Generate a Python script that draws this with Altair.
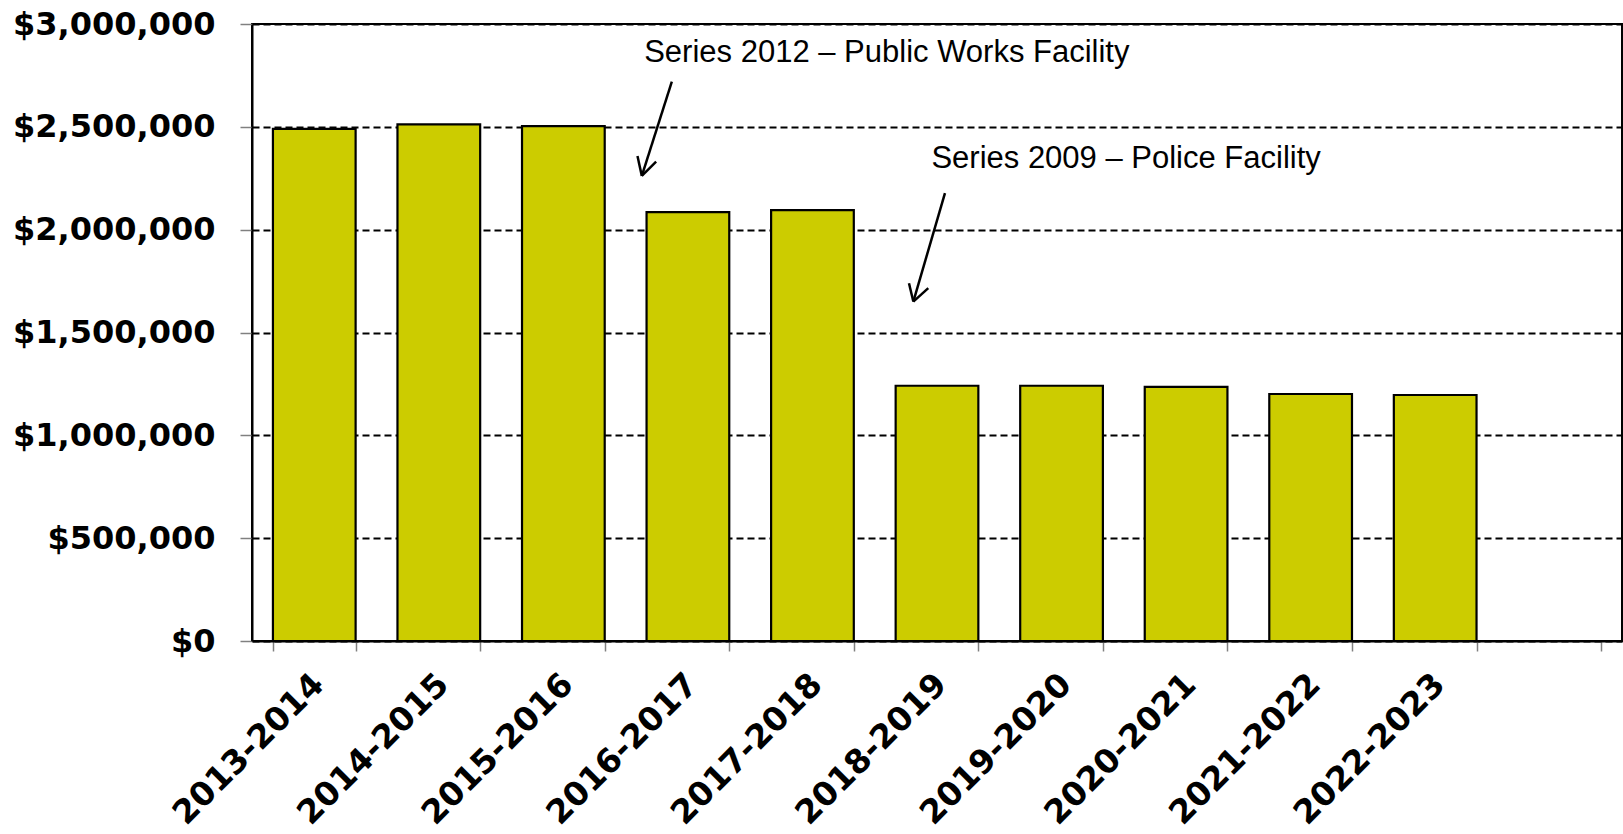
import altair as alt
import pandas as pd

# ---- data ----
years = ["2013-2014", "2014-2015", "2015-2016", "2016-2017", "2017-2018",
         "2018-2019", "2019-2020", "2020-2021", "2021-2022", "2022-2023", ""]
payments = [2490000, 2512000, 2503000, 2085000, 2095000,
            1241000, 1241000, 1236000, 1201000, 1196000]
y_ticks = [0, 500000, 1000000, 1500000, 2000000, 2500000, 3000000]

# annotations (x in band units from the left edge, y in dollars)
note_text = ["Series 2012 \u2013 Public Works Facility", "Series 2009 \u2013 Police Facility"]
note_x = [3.149, 5.455]
note_y = [2861000, 2343000]

# arrow segments: shaft + two head strokes for each arrow
seg_x = [3.371, 3.130, 3.130, 5.564, 5.310, 5.310]
seg_y = [2719600, 2261300, 2261300, 2177200, 1650400, 1650400]
seg_x2 = [3.130, 3.095, 3.245, 5.310, 5.275, 5.430]
seg_y2 = [2261300, 2358500, 2330800, 1650400, 1739800, 1715500]

bars_df = pd.DataFrame({"year": years[:len(payments)], "payment": payments})
notes_df = pd.DataFrame({"label": note_text, "x": note_x, "y": note_y})
segs_df = pd.DataFrame({"x": seg_x, "y": seg_y, "x2": seg_x2, "y2": seg_y2})

yscale = alt.Scale(domain=[0, 3000000], nice=False, zero=True)
xq = alt.Scale(domain=[0, len(years)], nice=False, zero=False)

bars = alt.Chart(bars_df).mark_bar(
    color="#CCCC00", stroke="black", strokeWidth=2.2
).encode(
    x=alt.X("year:N", sort=years,
            scale=alt.Scale(domain=years, paddingInner=0.336, paddingOuter=0.168),
            axis=alt.Axis(title=None, labelAngle=-45, labelAlign="right",
                          labelBaseline="middle", labelPadding=28, labelOffset=4,
                          labelLimit=0,
                          labelFont="DejaVu Sans", labelFontWeight="bold",
                          labelFontSize=33, labelColor="black",
                          tickBand="extent", tickSize=10, tickColor="#808080",
                          tickWidth=1.5, domainColor="black", domainWidth=2,
                          grid=False, labelOverlap=False)),
    y=alt.Y("payment:Q", scale=yscale,
            axis=alt.Axis(title=None, values=y_ticks, format="$,.0f",
                          labelFont="DejaVu Sans", labelFontWeight="bold",
                          labelFontSize=32, labelColor="black", labelPadding=25,
                          labelLimit=0,
                          tickSize=12, tickColor="#808080", tickWidth=1.5,
                          domainColor="black", domainWidth=2,
                          grid=True, gridColor="black", gridWidth=2,
                          gridDash=[7, 4], gridOpacity=1)),
)

notes = alt.Chart(notes_df).mark_text(
    align="left", baseline="middle", font="Liberation Sans", fontSize=31, color="black"
).encode(
    x=alt.X("x:Q", scale=xq, axis=None),
    y=alt.Y("y:Q", scale=yscale, axis=None),
    text="label:N",
)

arrows = alt.Chart(segs_df).mark_rule(color="black", strokeWidth=2.5).encode(
    x=alt.X("x:Q", scale=xq, axis=None),
    y=alt.Y("y:Q", scale=yscale, axis=None),
    x2="x2:Q",
    y2="y2:Q",
)

chart = alt.layer(bars, notes, arrows).resolve_scale(
    x="independent"
).resolve_axis(y="independent").properties(
    width=1370, height=617,
    autosize=alt.AutoSizeParams(type="none"),
    padding={"left": 252, "top": 24, "right": 1, "bottom": 193},
    background="white",
).configure_view(stroke="black", strokeWidth=2)

chart.save("out.html", embed_options={"renderer": "svg", "actions": False})
